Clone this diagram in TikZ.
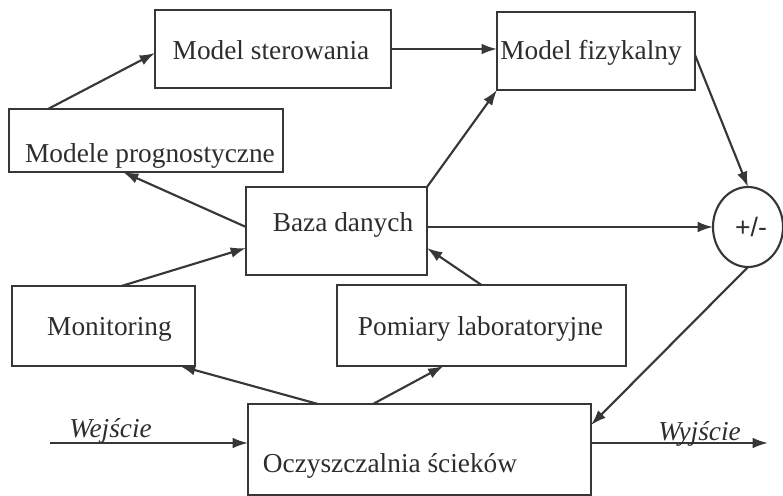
\documentclass[tikz,border=0pt]{standalone}
\usepackage{fontspec}
\setmainfont{Liberation Serif}
\newfontfamily\znakfont{Liberation Sans}
\usetikzlibrary{arrows.meta,calc,shapes.geometric}
\definecolor{linia}{RGB}{55,55,55}
\definecolor{napis}{RGB}{45,45,45}

\begin{document}
\begin{tikzpicture}[x=0.75pt,y=0.75pt,yscale=-1,xscale=1,
    blok/.style={draw=linia, line width=1.6pt, inner sep=0pt, outer sep=0pt},
    pole/.style={ellipse, draw=linia, line width=1.6pt, inner sep=0pt, outer sep=0pt},
    strz/.style={draw=linia, line width=1.6pt, -{Latex[length=11.5pt,width=8pt]}},
    tekst/.style={inner sep=0.75pt, text=napis, font=\fontsize{20.5pt}{24pt}\selectfont}]
        %set diagram left start at 0, and has height of 496
        \useasboundingbox (0,0) rectangle (783,496);

        %Shape: Rectangle
        \node [blok, minimum width=177pt, minimum height=58.5pt] (ster) at (273,49) {};
        %Shape: Rectangle
        \node [blok, minimum width=148.5pt, minimum height=58.5pt] (fiz) at (596,51) {};
        %Shape: Rectangle
        \node [blok, minimum width=205.5pt, minimum height=47.25pt] (prog) at (146,140.5) {};
        %Shape: Rectangle
        \node [blok, minimum width=135.75pt, minimum height=66pt] (baza) at (336.5,231) {};
        %Shape: Rectangle
        \node [blok, minimum width=137.25pt, minimum height=60pt] (mon) at (103.5,326) {};
        %Shape: Rectangle
        \node [blok, minimum width=216.75pt, minimum height=60.75pt] (pom) at (481.5,325.5) {};
        %Shape: Rectangle
        \node [blok, minimum width=257.25pt, minimum height=68.25pt] (oczy) at (419.5,449.5) {};
        %Shape: Ellipse
        \node [pole, minimum width=52.5pt, minimum height=60pt] (pm) at (748,227) {};

        \coordinate (we) at (50,443);
        \coordinate (wy) at (768,443);

        %Straight Lines
        \draw [strz] ($(prog.north west)+(39,0)$) -- ($(ster.west)+(0,4)$);
        \draw [strz] (ster.east) -- (ster.east -| fiz.west);
        \draw [strz] (baza.north east) -- (fiz.south west);
        \draw [strz] ($(baza.west)+(0,-4)$) -- ($(prog.south)+(-23,0)$);
        \draw [strz] ($(mon.north)+(18,0)$) -- ($(baza.west)+(0,17)$);
        \draw [strz] (pom.north) -- ($(baza.east)+(0,17)$);
        \draw [strz] (baza.east |- pm.west) -- (pm.west);
        \draw [strz] ($(fiz.east)+(0,4)$) -- (pm.north);
        \draw [strz] (pm.south) -- ($(oczy.north east)+(0,21)$);
        \draw [strz] ($(oczy.north west)+(70,0)$) -- ($(mon.south east)+(-15,0)$);
        \draw [strz] ($(oczy.north west)+(125,0)$) -- ($(pom.south)+(-38,0)$);
        \draw [strz] (we) -- (we -| oczy.west);
        \draw [strz] (wy -| oczy.east) -- (wy);

        % Text Node
        \draw (271,60) node [tekst, anchor=base] (tster) {Model sterowania};
        % Text Node
        \draw (591,60) node [tekst, anchor=base] (tfiz) {Model fizykalny};
        % Text Node
        \draw (150,162) node [tekst, anchor=base] (tprog) {Modele prognostyczne};
        % Text Node
        \draw (343,231) node [tekst, anchor=base] (tbaza) {Baza danych};
        % Text Node
        \draw (109.5,335) node [tekst, anchor=base] (tmon) {Monitoring};
        % Text Node
        \draw (480.5,335) node [tekst, anchor=base] (tpom) {Pomiary laboratoryjne};
        % Text Node
        \draw (390,472) node [tekst, anchor=base] (toczy) {Oczyszczalnia ścieków};
        % Text Node
        \draw (751,227) node [tekst, font=\znakfont\fontsize{20pt}{24pt}\selectfont] (tpm) {+/-};
        % Text Node
        \draw (68,437) node [tekst, anchor=base west] (twe) {\textit{Wejście}};
        % Text Node
        \draw (657,440) node [tekst, anchor=base west] (twy) {\textit{Wyjście}};

\end{tikzpicture}
\end{document}
